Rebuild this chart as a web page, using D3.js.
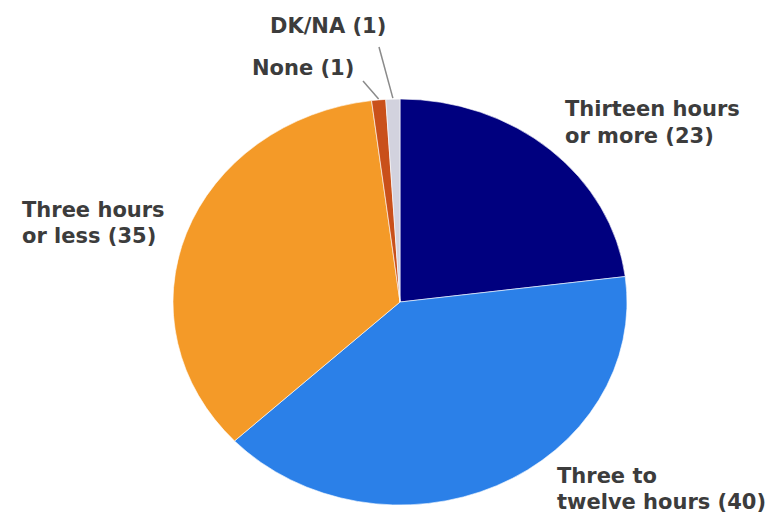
<!DOCTYPE html>
<html>
<head>
<meta charset="utf-8">
<script src="https://cdn.jsdelivr.net/npm/d3@7"></script>
<style>
  body { margin: 0; background: #fff; }
  .label { font-family: "DejaVu Sans", sans-serif; font-weight: bold; font-size: 21px; fill: #3c3c3c; }
  .leader { stroke: #8a8a8a; stroke-width: 1.5; fill: none; }
</style>
</head>
<body>
<div id="chart"></div>
<script>
// slices, clockwise from 12 o'clock
var categories = ["Thirteen hours or more", "Three to twelve hours", "Three hours or less", "None", "DK/NA"];
var values = [23, 40, 35, 1, 1];
var colors = ["#00007f", "#2b80e8", "#f49a28", "#c9501a", "#d2d2de"];
// label text, one array entry per line
var labelLines = [
  ["Thirteen hours", "or more (23)"],
  ["Three to", "twelve hours (40)"],
  ["Three hours", "or less (35)"],
  ["None (1)"],
  ["DK/NA (1)"]
];

// canvas size variables
var width = 782, height = 520;
var cx = 400, cy = 302;
var rx = 227, ry = 203; // the pie is a bit stretched sideways

// label layout: x, first baseline, line height, leader start (if any)
var labelLayout = [
  { x: 565, y: 116, lh: 27 },
  { x: 557, y: 483, lh: 26 },
  { x: 22, y: 217, lh: 26 },
  { x: 252, y: 75, lh: 26, lead: [363, 81] },
  { x: 270, y: 33, lh: 26, lead: [379, 47] }
];

var svg = d3.select("#chart").append("svg")
  .attr("width", width)
  .attr("height", height);

var pie = d3.pie().sort(null).value(function(d) { return d; });
var arcs = pie(values);

var arc = d3.arc().innerRadius(0).outerRadius(ry);

var g = svg.append("g")
  .attr("transform", "translate(" + cx + "," + cy + ") scale(" + (rx / ry) + ",1)");

g.selectAll("path.slice")
  .data(arcs)
  .enter().append("path")
    .attr("class", "slice")
    .attr("d", arc)
    .attr("fill", function(d, i) { return colors[i]; })
    .attr("stroke", "#ffffff")
    .attr("stroke-width", 0.6)
    .attr("vector-effect", "non-scaling-stroke");

// point on the pie rim at the middle of a slice, in page coords
function rimPoint(d) {
  var a = (d.startAngle + d.endAngle) / 2;
  return [cx + Math.sin(a) * rx, cy - Math.cos(a) * ry];
}

// leader lines for the thin slices
arcs.forEach(function(d, i) {
  var lay = labelLayout[i];
  if (!lay.lead) return;
  var p = rimPoint(d);
  svg.append("line")
    .attr("class", "leader")
    .attr("x1", lay.lead[0]).attr("y1", lay.lead[1])
    .attr("x2", p[0]).attr("y2", p[1] - 1);
});

// labels
var labels = svg.selectAll("text.label")
  .data(categories)
  .enter().append("text")
    .attr("class", "label")
    .attr("x", function(d, i) { return labelLayout[i].x; })
    .attr("y", function(d, i) { return labelLayout[i].y; });

labels.each(function(d, i) {
  var lay = labelLayout[i];
  d3.select(this).selectAll("tspan")
    .data(labelLines[i])
    .enter().append("tspan")
      .attr("x", lay.x)
      .attr("dy", function(t, j) { return j === 0 ? 0 : lay.lh; })
      .text(function(t) { return t; });
});
</script>
</body>
</html>
